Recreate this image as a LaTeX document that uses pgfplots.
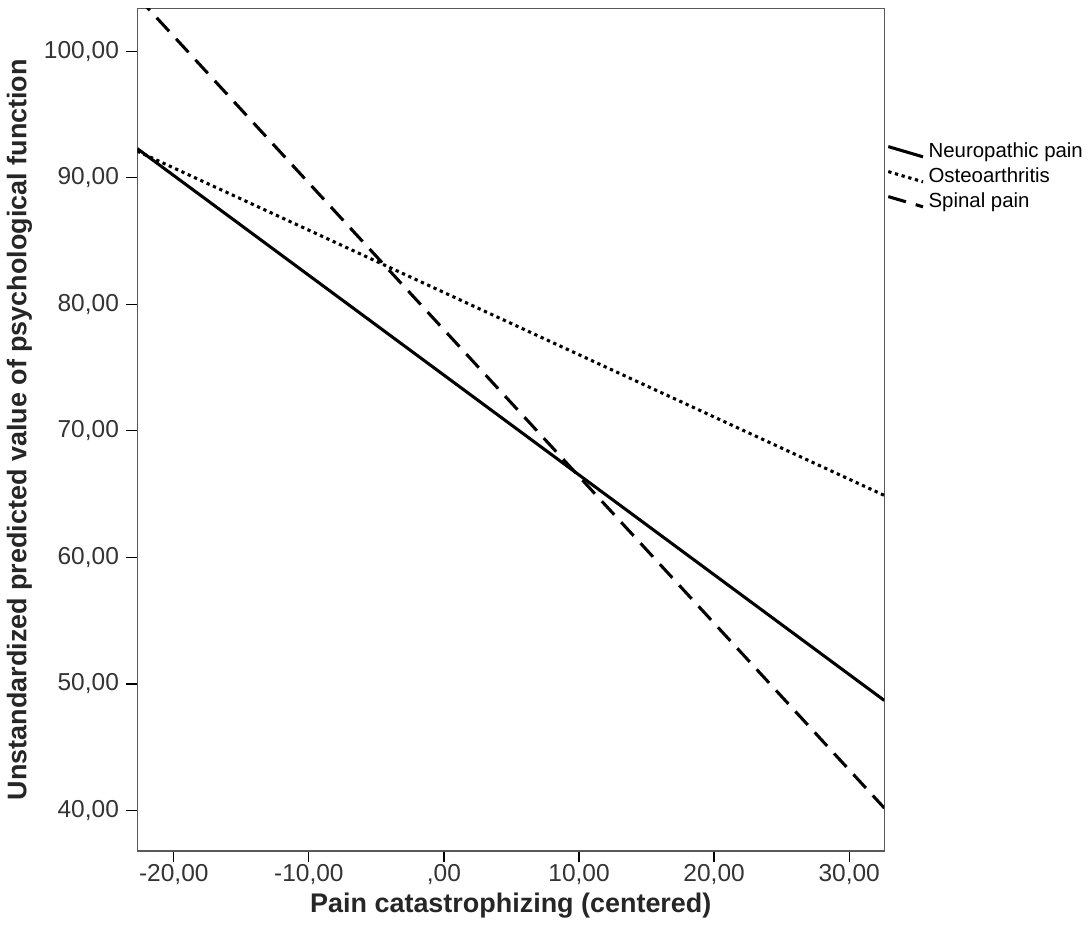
\documentclass[border=0pt]{standalone}
\usepackage{fontspec}
\setmainfont{Liberation Sans}
\usepackage{pgfplots}
\pgfplotsset{compat=1.18}

\begin{document}
\begin{tikzpicture}
\begin{axis}[
    width=366pt, height=413pt,
    scale only axis,
    xmin=-22.7, xmax=32.6,
    ymin=36.8, ymax=103.4,
    axis line style={gray!70!black, line width=0.6pt},
    xtick={-20,-10,0,10,20,30},
    xticklabels={{-20,00},{-10,00},{,00},{10,00},{20,00},{30,00}},
    ytick={40,50,60,70,80,90,100},
    yticklabels={{40,00},{50,00},{60,00},{70,00},{80,00},{90,00},{100,00}},
    tick align=outside,
    tick pos=left,
    major tick length=5.5pt,
    tick style={black, line width=0.6pt},
    ticklabel style={font=\fontsize{12}{14}\selectfont, text=black!80},
    xticklabel style={yshift=2.5pt},
    xlabel={\textbf{Pain catastrophizing (centered)}},
    ylabel={\textbf{Unstandardized predicted value of psychological function}},
    label style={font=\fontsize{13.2}{15}\selectfont, text=black!85},
    xlabel style={yshift=2.8pt},
    ylabel style={yshift=-1pt},
    legend style={at={(1.0,0.848)}, anchor=north west, draw=none, fill=none,
        font=\fontsize{10}{12}\selectfont, row sep=-0.5pt, inner sep=1pt},
    legend cell align=left,
    legend image code/.code={\draw[#1] (0pt,2.5pt) -- (17pt,-2.5pt);},
    clip=true,
    after end axis/.code={
        \path (rel axis cs:0,1) ++(0,4pt);
        \path (rel axis cs:0,0) ++(0,-48pt);
    },
]
\addplot[black, line width=1.5pt] coordinates {(-22.7,92.3) (32.6,48.7)};
\addlegendentry{Neuropathic pain}
\addplot[black, line width=1.5pt, dash pattern=on 1.6pt off 1.8pt] coordinates {(-22.7,92.1) (32.6,64.9)};
\addlegendentry{Osteoarthritis}
\addplot[black, line width=1.5pt, dash pattern=on 9pt off 5pt] coordinates {(-22.7,104.3) (32.6,40.2)};
\addlegendentry{Spinal pain}
\end{axis}
\end{tikzpicture}
\end{document}
